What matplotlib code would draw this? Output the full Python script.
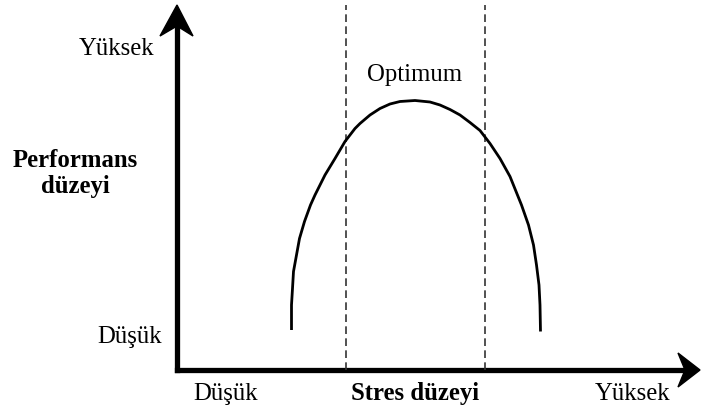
import matplotlib.pyplot as plt
from matplotlib.patches import Polygon

plt.rcParams['font.family'] = ['Liberation Serif', 'DejaVu Serif']

# curve (stress level, performance level)
stress = [2.29, 2.29, 2.31, 2.33, 2.39, 2.45, 2.55, 2.67, 2.76, 2.96, 3.16, 3.36,
          3.56, 3.66, 3.86, 4.06, 4.26, 4.46, 4.76, 5.06, 5.26, 5.46, 5.66, 5.86,
          6.06, 6.26, 6.46, 6.66, 6.89, 7.03, 7.13, 7.19, 7.24, 7.26, 7.27]
perf = [0.80, 1.30, 1.63, 1.97, 2.30, 2.63, 2.97, 3.30, 3.50, 3.90, 4.23, 4.57,
        4.83, 4.93, 5.10, 5.23, 5.32, 5.37, 5.39, 5.36, 5.30, 5.21, 5.10, 4.95,
        4.79, 4.53, 4.23, 3.87, 3.30, 2.90, 2.50, 2.10, 1.70, 1.30, 0.77]
optimum_bounds = [3.38, 6.16]

y_labels = ['Düşük', 'Yüksek']
x_labels = ['Düşük', 'Yüksek']
y_title = ['Performans', 'düzeyi']
x_title = 'Stres düzeyi'
peak_label = 'Optimum'

fig = plt.figure(figsize=(7.02, 4.11), dpi=100)
ax = fig.add_axes([177 / 702, 41 / 411, 525 / 702, 370 / 411])
ax.set_xlim(0, 10.5)
ax.set_ylim(0, 7.4)
ax.axis('off')

fs = 17.8

# axes with arrow heads
xend, yend = 10.46, 7.3
ax.plot([0, 0], [0, yend - 0.4], color='black', lw=3.8, solid_capstyle='projecting', clip_on=False)
ax.plot([0, xend - 0.3], [0, 0], color='black', lw=3.8, solid_capstyle='projecting', clip_on=False)
ax.add_patch(Polygon([[0, yend], [-0.34, yend - 0.62], [0, yend - 0.42], [0.32, yend - 0.62]],
                     closed=True, color='black', clip_on=False))
ax.add_patch(Polygon([[xend, 0], [xend - 0.44, 0.34], [xend - 0.3, 0], [xend - 0.44, -0.34]],
                     closed=True, color='black', clip_on=False))

# optimum zone
for xb in optimum_bounds:
    ax.plot([xb, xb], [0, yend], color='#333333', lw=1.2, dashes=(4.6, 2.6), clip_on=False)

ax.plot(stress, perf, color='black', lw=2.0, solid_capstyle='butt',
        solid_joinstyle='round', clip_on=False)

ax.text(4.76, 5.78, peak_label, ha='center', va='baseline', fontsize=fs)

# y axis labels
ax.text(-0.46, 6.3, y_labels[1], ha='right', va='baseline', fontsize=fs, clip_on=False)
ax.text(-0.3, 0.54, y_labels[0], ha='right', va='baseline', fontsize=fs, clip_on=False)
ax.text(-2.04, 4.06, y_title[0], ha='center', va='baseline', fontsize=fs, fontweight='bold')
ax.text(-2.04, 3.54, y_title[1], ha='center', va='baseline', fontsize=fs, fontweight='bold')

# x axis labels
ax.text(0.32, -0.6, x_labels[0], ha='left', va='baseline', fontsize=fs)
ax.text(8.36, -0.6, x_labels[1], ha='left', va='baseline', fontsize=fs)
ax.text(4.76, -0.6, x_title, ha='center', va='baseline', fontsize=fs, fontweight='bold')

fig.savefig('out.png', dpi=100)
